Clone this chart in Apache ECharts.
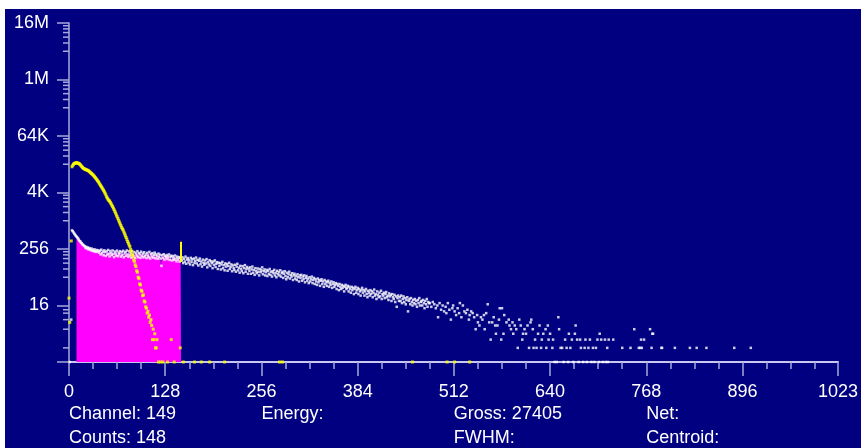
<!DOCTYPE html>
<html>
<head>
<meta charset="utf-8">
<script src="https://cdn.jsdelivr.net/npm/echarts@6/dist/echarts.min.js"></script>
<style>
  html, body { margin: 0; padding: 0; background: #fff; }
  #chart { position: absolute; left: 5px; top: 9px; width: 856px; height: 439px; }
</style>
</head>
<body>
<div id="chart"></div>
<script>
// spectrum counts, index = channel ('-' = no counts)
const counts = [
  '-', 1, '-', 8, 640, 610, 580, 545, 520, 490,
  470, 452, 430, 405, 380, 372, 350, 338, 320, 312,
  300, 292, 270, 285, 262, 276, 250, 268, 258, 240,
  262, 236, 248, 228, 252, 232, 222, 244, 226, 238,
  214, 236, 196, 248, 208, 226, 188, 240, 220, 182,
  228, 196, 244, 204, 178, 232, 210, 190, 238, 200,
  172, 226, 206, 186, 236, 180, 214, 198, 230, 176,
  218, 190, 234, 170, 206, 222, 184, 238, 196, 174,
  228, 188, 210, 168, 232, 192, 178, 220, 164, 206,
  186, 230, 172, 210, 196, 166, 224, 182, 204, 170,
  218, 180, 196, 164, 212, 186, 170, 222, 160, 200,
  178, 208, 168, 190, 214, 162, 196, 180, 158, 204,
  174, 194, 160, 112, 188, 166, 198, 152, 182, 170,
  190, 156, 176, 196, 150, 172, 184, 146, 180, 164,
  150, 186, 160, 140, 176, 154, 170, 138, 166, 148,
  146, 170, 128, 158, 138, 176, 124, 152, 164, 132,
  148, 120, 166, 136, 154, 116, 160, 130, 144, 168,
  126, 150, 114, 144, 160, 122, 138, 108, 152, 130,
  118, 146, 126, 156, 104, 134, 120, 148, 112, 140,
  128, 100, 138, 118, 146, 106, 124, 134, 96, 130,
  112, 128, 94, 120, 136, 100, 116, 90, 126, 108,
  122, 88, 112, 130, 96, 106, 120, 86, 114, 100,
  92, 118, 84, 108, 124, 90, 102, 80, 112, 96,
  86, 110, 78, 100, 116, 84, 96, 106, 76, 98,
  88, 104, 76, 94, 108, 80, 92, 72, 100, 86,
  78, 98, 84, 70, 96, 82, 90, 104, 74, 86,
  94, 70, 82, 92, 68, 88, 76, 96, 72, 84,
  66, 86, 78, 92, 70, 80, 64, 88, 74, 82,
  70, 90, 66, 78, 84, 62, 76, 86, 68, 58,
  80, 64, 74, 84, 60, 72, 66, 78, 56, 70,
  76, 60, 68, 56, 74, 64, 52, 70, 62, 72,
  54, 66, 58, 70, 50, 62, 68, 54, 60, 48,
  64, 52, 58, 66, 48, 56, 62, 46, 58, 52,
  44, 60, 50, 56, 42, 54, 58, 46, 52, 40,
  56, 46, 52, 42, 50, 54, 40, 48, 44, 52,
  38, 46, 50, 40, 44, 48, 36, 46, 42, 34,
  46, 40, 36, 44, 38, 42, 32, 40, 44, 36,
  38, 42, 32, 40, 36, 30, 40, 34, 38, 28,
  36, 40, 30, 34, 38, 28, 36, 32, 26, 34,
  38, 30, 34, 26, 32, 36, 28, 24, 33, 30,
  26, 34, 28, 32, 24, 30, 35, 26, 28, 22,
  32, 27, 24, 30, 25, 33, 22, 28, 26, 30,
  23, 28, 31, 24, 26, 21, 29, 25, 27, 20,
  28, 24, 22, 27, 19, 25, 15, 23, 26, 20,
  24, 20, 26, 18, 22, 25, 19, 23, 17, 21,
  24, 12, 20, 22, 17, 23, 19, 16, 21, 18,
  22, 17, 20, 15, 21, 18, 23, 16, 19, 20,
  16, 21, 18, 14, 20, 17, 22, 15, 19, 18
]

// sparse high-channel counts [channel, counts]
const tailPoints = [
  [480, 18], [482, 15], [484, 19], [486, 17], [488, 14], [490, 16], [491, 9], [493, 18], [495, 13], [497, 16],
  [499, 12], [501, 15], [502, 11], [504, 18], [506, 13], [508, 8], [510, 14], [511, 16], [513, 12], [515, 10],
  [517, 14], [519, 11], [520, 18], [522, 9], [524, 16], [526, 12], [528, 11], [530, 13], [532, 8], [533, 10],
  [535, 12], [537, 11], [539, 9], [541, 5], [543, 10], [544, 7], [546, 6], [548, 9], [550, 8], [552, 10],
  [553, 5], [555, 11], [557, 17], [559, 7], [561, 3], [563, 7], [565, 9], [567, 6], [568, 4], [570, 6],
  [572, 8], [573, 14], [575, 3], [576, 14], [578, 4], [579, 10], [582, 7], [585, 8], [586, 6], [588, 5],
  [590, 7], [591, 4], [593, 6], [595, 5], [597, 2], [599, 8], [601, 6], [603, 3], [604, 4], [606, 5],
  [608, 4], [610, 6], [612, 2], [614, 7], [615, 8], [617, 5], [618, 2], [620, 3], [622, 2], [624, 4],
  [626, 6], [628, 2], [629, 3], [631, 4], [634, 5], [635, 2], [637, 6], [638, 3], [640, 4], [643, 2],
  [644, 3], [646, 1], [649, 1], [651, 9], [652, 5], [654, 2], [656, 2], [658, 1], [660, 3], [662, 2],
  [664, 1], [665, 4], [667, 2], [669, 3], [671, 1], [673, 4], [674, 6], [676, 3], [678, 1], [680, 3],
  [681, 2], [684, 1], [686, 2], [687, 3], [689, 1], [691, 2], [693, 3], [695, 1], [697, 2], [699, 1],
  [701, 2], [703, 3], [705, 1], [706, 4], [708, 3], [710, 1], [713, 3], [714, 1], [716, 2], [717, 1],
  [718, 3], [724, 3], [736, 2], [747, 2], [752, 5], [758, 2], [760, 2], [761, 3], [762, 2], [765, 3],
  [773, 5], [775, 2], [776, 4], [777, 4], [788, 2], [789, 2], [806, 2], [826, 2], [835, 2], [848, 2],
  [885, 2], [907, 2]
]

// reference (yellow) spectrum, index = channel
const refCounts = [
  23, 7, '-', 380, 14500, 15600, 16400, 17000, 17300, 17500,
  17600, 17500, 17300, 17000, 16600, 16000, 15300, 14600, 14000, 13450,
  13200, 12900, 12700, 12500, 12300, 12100, 11900, 11500, 11100, 10700,
  10400, 10000, 9700, 9300, 8900, 8500, 8100, 7700, 7300, 6960,
  6550, 6150, 5800, 5450, 5150, 4850, 4550, 4250, 3950, 3650,
  3330, 3120, 2930, 2760, 2680, 2520, 2350, 2200, 2050, 1900,
  1760, 1620, 1490, 1360, 1250, 1150, 1050, 960, 880, 810,
  740, 690, 650, 590, 540, 490, 450, 410, 370, 340,
  310, 287, 250, 228, 196, 178, 150, 140, 118, 108,
  88, 82, 64, 60, 46, 44, 34, 32, 26, 27,
  20, 19, 15, 14, 11, 12, 9, 10, 7, 8,
  6, 3, 5, 3, 4, 2, 2
]
const refSparse = [
  [117, 3], [119, 1], [122, 1], [125, 1], [131, 1], [136, 3], [140, 1], [148, 2], [152, 1], [167, 1],
  [176, 1], [187, 1], [207, 1], [280, 1], [284, 1], [457, 1], [503, 1], [513, 1], [533, 1]
]

const roiStart = 10
const roiEnd = 149
const cursorChannel = 149
const cursorSpan = [135, 365]

const yTickLabels = ['', '16', '256', '4K', '64K', '1M', '16M']
const lowMinorTicks = [2, 5, 8, 11, 13]
const minorMultipliers = [4, 6, 8, 10, 12, 14]

const infoRow1 = ['Channel: 149', 'Energy:', 'Gross: 27405', 'Net:']
const infoRow2 = ['Counts: 148', '', 'FWHM:', 'Centroid:']
const infoChannels = [0, 256, 512, 768]

const FONT = 'Arial, "Liberation Sans", sans-serif'
const axisColor = '#a8a8dc'

const yMinorTicks = lowMinorTicks.slice()
for (let k = 1; k <= 5; k++) {
  minorMultipliers.forEach(m => yMinorTicks.push(m * Math.pow(16, k)))
}

const toPoints = arr => arr.map((v, ch) => [ch, v]).filter(p => p[1] !== '-')
const whitePoints = toPoints(counts).concat(tailPoints)
const yellowPoints = toPoints(refCounts).concat(refSparse)
const roiPoints = counts.slice(roiStart, roiEnd + 1).map((v, i) => [roiStart + i, v])

const chart = echarts.init(document.getElementById('chart'))

const option = {
  animation: false,
  backgroundColor: '#000080',
  grid: { left: 64, right: 22, top: 14, bottom: 86 },
  xAxis: {
    type: 'value',
    min: 0,
    max: 1023,
    interval: 128,
    axisLine: { show: true, lineStyle: { color: '#c8c8f0', width: 2 } },
    axisTick: { show: true, length: 14, lineStyle: { color: axisColor, width: 1.5 } },
    minorTick: { show: true, splitNumber: 4, length: 7, lineStyle: { color: axisColor, width: 1.5 } },
    axisLabel: {
      color: '#ffffff',
      fontSize: 18,
      fontFamily: FONT,
      margin: 21,
      showMinLabel: true,
      showMaxLabel: true,
      formatter: v => String(v)
    },
    splitLine: { show: false }
  },
  yAxis: {
    type: 'log',
    logBase: 16,
    min: 1,
    max: 16777216,
    axisLine: { show: true, lineStyle: { color: axisColor, width: 1.5 } },
    axisTick: { show: true, length: 12, lineStyle: { color: axisColor, width: 1.5 } },
    axisLabel: {
      color: '#ffffff',
      fontSize: 18,
      fontFamily: FONT,
      margin: 20,
      formatter: v => yTickLabels[Math.round(Math.log(v) / Math.log(16))] || ''
    },
    splitLine: { show: false }
  },
  series: [
    {
      // ROI fill
      type: 'line',
      data: roiPoints,
      step: 'middle',
      symbol: 'none',
      silent: true,
      lineStyle: { width: 0 },
      areaStyle: { color: '#ff00ff', opacity: 1, origin: 'start' },
      z: 2
    },
    {
      type: 'scatter',
      data: whitePoints,
      symbol: 'rect',
      symbolSize: 2.5,
      silent: true,
      itemStyle: { color: '#ffffff' },
      z: 3
    },
    {
      type: 'scatter',
      data: yellowPoints,
      symbol: 'rect',
      symbolSize: 3,
      silent: true,
      itemStyle: { color: '#ffff00' },
      z: 4
    },
    {
      // cursor
      type: 'line',
      data: [[cursorChannel, cursorSpan[0]], [cursorChannel, cursorSpan[1]]],
      symbol: 'none',
      silent: true,
      lineStyle: { color: '#ffff00', width: 2 },
      z: 5
    },
    {
      // minor ticks of the log axis
      type: 'custom',
      clip: false,
      silent: true,
      data: yMinorTicks.map(v => [0, v]),
      renderItem: (params, api) => {
        const p = api.coord([0, api.value(1)])
        return {
          type: 'line',
          shape: { x1: p[0] - 6, y1: p[1], x2: p[0], y2: p[1] },
          style: { stroke: axisColor, lineWidth: 1.5 }
        }
      },
      z: 1
    }
  ]
}

chart.setOption(option)

// info text under the axis, aligned with channel ticks
const graphic = []
infoChannels.forEach((ch, i) => {
  const x = chart.convertToPixel({ xAxisIndex: 0 }, ch)
  ;[[infoRow1[i], 404], [infoRow2[i], 428]].forEach(([text, y]) => {
    if (!text) return
    graphic.push({
      type: 'text',
      left: x,
      top: y - 8,
      silent: true,
      style: { text, fill: '#ffffff', font: '18px ' + FONT }
    })
  })
})
chart.setOption({ graphic })
</script>
</body>
</html>
